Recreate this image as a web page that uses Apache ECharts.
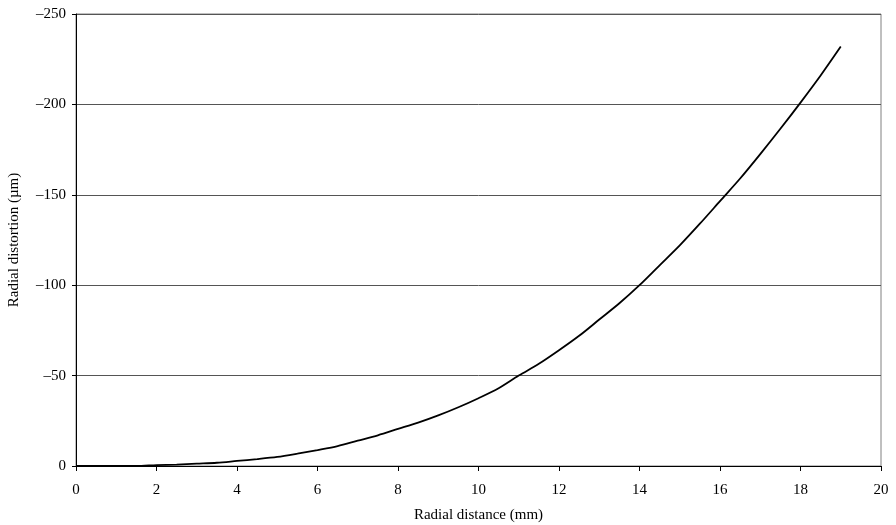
<!DOCTYPE html>
<html><head><meta charset="utf-8">
<script src="https://cdn.jsdelivr.net/npm/echarts@6/dist/echarts.min.js"></script>
<style>html,body{margin:0;padding:0;background:#fff}#c{width:896px;height:525px}</style>
</head><body><div id="c"></div>
<script>
const radialDistance = [0,0.5,1,1.5,2,2.5,3,3.5,4,4.5,5,5.5,6,6.5,7,7.5,8,8.5,9,9.5,10,10.5,11,11.5,12,12.5,13,13.5,14,14.5,15,15.5,16,16.5,17,17.5,18,18.5,19];
const radialDistortion = [0,0,0,0,-0.5,-0.8,-1.3,-1.8,-2.8,-3.8,-5,-6.8,-8.8,-11,-14,-17,-20.5,-24,-28,-32.5,-37.5,-43,-50,-56.5,-64,-72,-81,-90,-100,-111,-122,-134,-146.5,-159,-172.5,-186.5,-201,-216,-232];
const xTicks = [0,2,4,6,8,10,12,14,16,18,20];
const yTicks = [0,-50,-100,-150,-200,-250];

const font = 'Liberation Serif';
const chart = echarts.init(document.getElementById('c'));
chart.setOption({
  animation: false,
  backgroundColor: '#fff',
  grid: {left: 76, right: 15, top: 14, bottom: 59, show: true, borderColor: '#808080', borderWidth: 1, containLabel: false, outerBoundsMode: 'none'},
  xAxis: {
    type: 'value', min: xTicks[0], max: xTicks[xTicks.length-1], interval: 2,
    name: 'Radial distance (mm)', nameLocation: 'middle', nameGap: 42,
    nameTextStyle: {fontFamily: font, fontSize: 15, color: '#000'},
    axisLine: {show: true, onZero: false, lineStyle: {color: '#000', width: 1}},
    axisTick: {show: true, inside: false, length: 5, lineStyle: {color: '#000'}},
    axisLabel: {fontFamily: font, fontSize: 15, color: '#000', margin: 17},
    splitLine: {show: false}
  },
  yAxis: {
    type: 'value', min: yTicks[yTicks.length-1], max: yTicks[0], interval: 50, inverse: true,
    name: 'Radial distortion (µm)', nameLocation: 'middle', nameGap: 54, nameRotate: 90,
    nameTextStyle: {fontFamily: font, fontSize: 15, color: '#000'},
    axisLine: {show: true, onZero: false, lineStyle: {color: '#000', width: 1}},
    axisTick: {show: true, inside: false, length: 4, lineStyle: {color: '#000'}},
    axisLabel: {fontFamily: font, fontSize: 15, color: '#000', margin: 10,
      formatter: v => v < 0 ? '\u2013' + Math.abs(v) : String(v)},
    splitLine: {show: true, lineStyle: {color: '#555', width: 1}}
  },
  series: [{
    type: 'line', showSymbol: false, smooth: 0.3,
    data: radialDistance.map((x, i) => [x, radialDistortion[i]]),
    lineStyle: {color: '#000', width: 1.8}
  }]
});
</script></body></html>
